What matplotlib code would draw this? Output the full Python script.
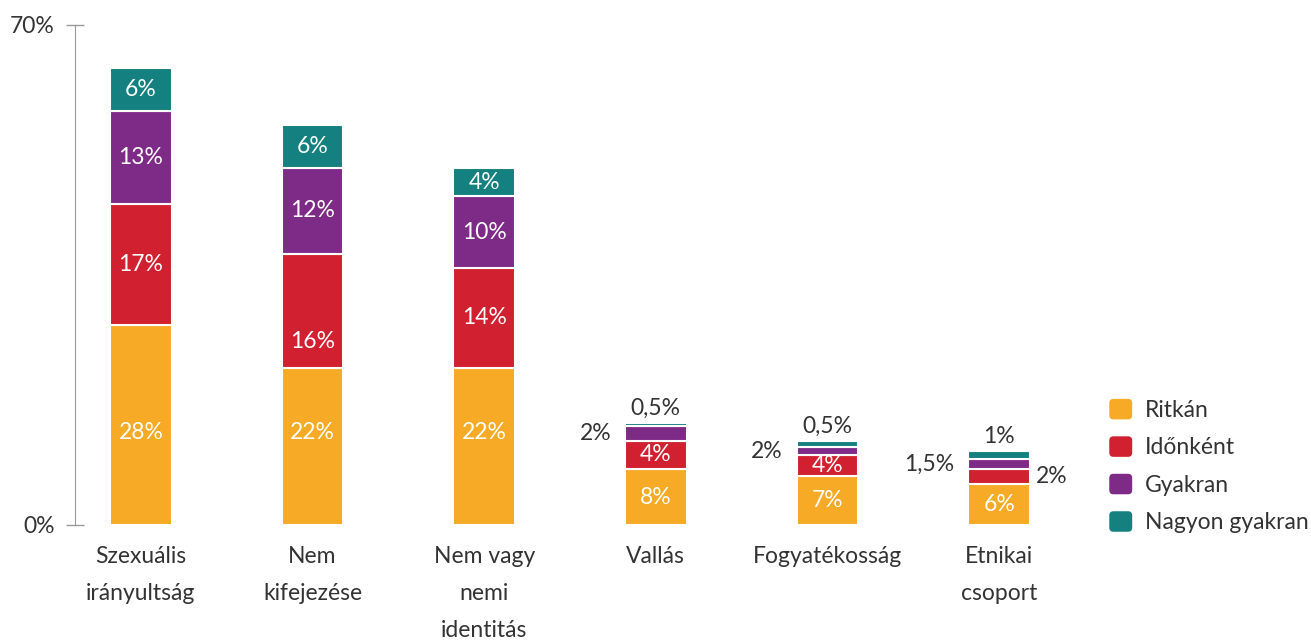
import matplotlib.pyplot as plt
import numpy as np
from matplotlib.patches import FancyBboxPatch
from matplotlib.legend_handler import HandlerPatch

plt.rcParams['font.family'] = ['Lato', 'DejaVu Sans']

categories = ['Szexuális\nirányultság', 'Nem\nkifejezése', 'Nem vagy\nnemi\nidentitás',
              'Vallás', 'Fogyatékosság', 'Etnikai\ncsoport']
series = ['Ritkán', 'Időnként', 'Gyakran', 'Nagyon gyakran']
ritkan = [28, 22, 22, 7.8, 6.8, 5.8]
idonkent = [17, 16, 14, 4, 3, 2]
gyakran = [13, 12, 10, 2, 1.1, 1.5]
nagyon = [6, 6, 4, 0.5, 0.8, 1]
labels_ritkan = ['28%', '22%', '22%', '8%', '7%', '6%']
labels_idonkent = ['17%', '16%', '14%', '4%', '4%', '2%']
labels_gyakran = ['13%', '12%', '10%', '2%', '2%', '1,5%']
labels_nagyon = ['6%', '6%', '4%', '0,5%', '0,5%', '1%']

colors = ['#F6AA25', '#D1202F', '#7E2A87', '#14807F']
txt = '#333333'

# small labels go outside the bar: (bar, segment) -> side
outside = {(3, 2): 'left', (3, 3): 'top',
           (4, 2): 'left', (4, 3): 'top',
           (5, 1): 'right', (5, 2): 'left', (5, 3): 'top'}
# inside labels that sit low in their segment (data y)
label_y = {(0, 0): 13, (1, 0): 13, (2, 0): 13, (1, 1): 25.7}


class RoundBox(HandlerPatch):
    def create_artists(self, legend, orig, xd, yd, w, h, fontsize, trans):
        p = FancyBboxPatch((-xd, -yd), w, h, boxstyle='round,pad=0,rounding_size=3',
                           facecolor=orig.get_facecolor(), edgecolor='none',
                           transform=trans)
        return [p]


fig = plt.figure(figsize=(13.11, 6.4), dpi=100)
ax = fig.add_axes([0.0572, 0.1797, 0.7704, 0.7813])

x = np.arange(len(categories))
width = 0.36
values = [ritkan, idonkent, gyakran, nagyon]
labels = [labels_ritkan, labels_idonkent, labels_gyakran, labels_nagyon]
bottom = np.zeros(len(categories))
for s, (vals, labs) in enumerate(zip(values, labels)):
    vals = np.array(vals, dtype=float)
    ax.bar(x, vals, width, bottom=bottom, color=colors[s], edgecolor='white',
           linewidth=1.5, label=series[s])
    for i in range(len(categories)):
        yc = bottom[i] + vals[i] / 2
        side = outside.get((i, s))
        if side is None:
            ax.text(x[i], label_y.get((i, s), yc), labs[i], ha='center', va='center',
                    color='white', fontsize=16.5)
        elif side == 'top':
            ax.annotate(labs[i], (x[i], bottom[i] + vals[i]), xytext=(0, 3),
                        textcoords='offset points', ha='center', va='bottom',
                        color=txt, fontsize=16.5)
        elif side == 'left':
            ax.annotate(labs[i], (x[i] - width / 2, yc), xytext=(-10, 0),
                        textcoords='offset points', ha='right', va='center',
                        color=txt, fontsize=16.5)
        else:
            ax.annotate(labs[i], (x[i] + width / 2, yc), xytext=(4, 0),
                        textcoords='offset points', ha='left', va='center',
                        color=txt, fontsize=16.5)
    bottom += vals

ax.set_xlim(-0.384, 5.5)
ax.set_ylim(0, 70)
ax.set_yticks([0, 70])
ax.set_yticklabels(['0%', '70%'])
ax.set_xticks(x)
ax.set_xticklabels(categories, linespacing=1.95)
ax.tick_params(axis='x', length=0, pad=15, labelsize=16.5, labelcolor=txt)
ax.tick_params(axis='y', direction='inout', length=13, width=1, color='#9a9a9a',
               pad=8, labelsize=16.5, labelcolor=txt)
for sp in ['top', 'right', 'bottom']:
    ax.spines[sp].set_visible(False)
ax.spines['left'].set_color('#9a9a9a')

handles, names = ax.get_legend_handles_labels()
handles = [h.patches[0] for h in handles]
leg = fig.legend(handles, names, loc='upper left', bbox_to_anchor=(0.8304, 0.409),
                 frameon=False, fontsize=16.5, handlelength=1.0, handleheight=1.0,
                 handletextpad=0.55, labelspacing=0.67, labelcolor=txt,
                 handler_map={plt.Rectangle: RoundBox()})

fig.savefig('out.png', dpi=100)
